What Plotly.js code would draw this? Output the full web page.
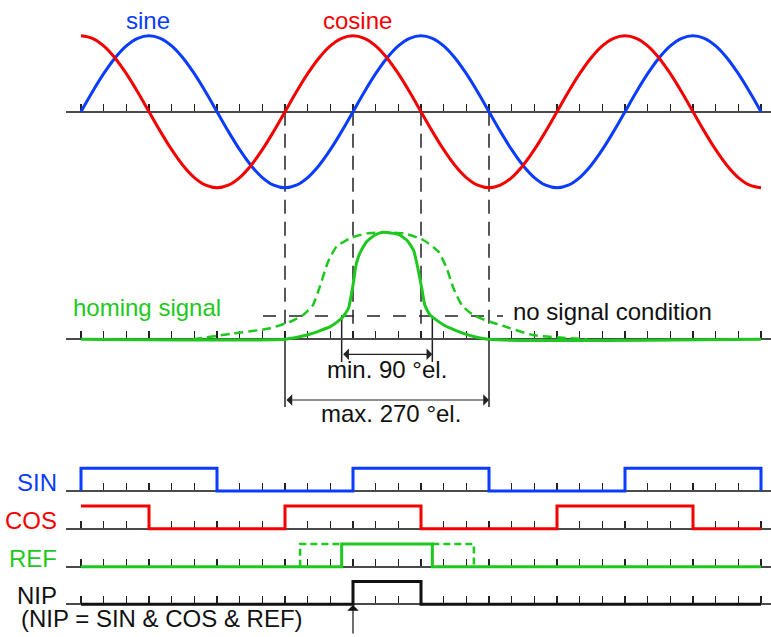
<!DOCTYPE html>
<html>
<head>
<meta charset="utf-8">
<script src="https://cdn.plot.ly/plotly-3.0.1.min.js"></script>
<style>html,body{margin:0;padding:0;background:#fff;}#chart{width:771px;height:637px;}</style>
</head>
<body>
<div id="chart"></div>
<script>
// ---------------- data (electrical degrees) ----------------
const tickAngles = [0,30,60,90,120,150,180,210,240,270,300,330,360,390,420,450,480,510,540,570,600,630,660,690,720,750,780,810,840,870,900];
const waveAngles = [0,15,30,45,60,75,90,105,120,135,150,165,180,195,210,225,240,255,270,285,300,315,330,345,
  360,375,390,405,420,435,450,465,480,495,510,525,540,555,570,585,600,615,630,645,660,675,690,705,
  720,735,750,765,780,795,810,825,840,855,870,885,900];
const sineVals = [0,0.259,0.5,0.707,0.866,0.966,1,0.966,0.866,0.707,0.5,0.259,0,-0.259,-0.5,-0.707,-0.866,-0.966,-1,-0.966,-0.866,-0.707,-0.5,-0.259,
  0,0.259,0.5,0.707,0.866,0.966,1,0.966,0.866,0.707,0.5,0.259,0,-0.259,-0.5,-0.707,-0.866,-0.966,-1,-0.966,-0.866,-0.707,-0.5,-0.259,
  0,0.259,0.5,0.707,0.866,0.966,1,0.966,0.866,0.707,0.5,0.259,0];
const cosineVals = [1,0.966,0.866,0.707,0.5,0.259,0,-0.259,-0.5,-0.707,-0.866,-0.966,-1,-0.966,-0.866,-0.707,-0.5,-0.259,0,0.259,0.5,0.707,0.866,0.966,
  1,0.966,0.866,0.707,0.5,0.259,0,-0.259,-0.5,-0.707,-0.866,-0.966,-1,-0.966,-0.866,-0.707,-0.5,-0.259,0,0.259,0.5,0.707,0.866,0.966,
  1,0.966,0.866,0.707,0.5,0.259,0,-0.259,-0.5,-0.707,-0.866,-0.966,-1];

// homing signal (normalised, 1 = peak)
const homingDeg = [0,270,299,330,345,354,360,364,369,378,389,400,420,431,440,444,451,455,462,480,506,539,900];
const homingVal = [0,0,0.04,0.118,0.196,0.29,0.507,0.694,0.804,0.912,0.975,1,0.981,0.928,0.835,0.725,0.477,0.32,0.227,0.134,0.056,0,0];
const homingWideDeg = [148,201,237,250,277,294,307,316,327,338,356,378,400,427,453,473,484,493,504,519,541,555,598,670];
const homingWideVal = [0,0.054,0.087,0.103,0.164,0.227,0.32,0.49,0.725,0.865,0.944,0.99,1,0.99,0.928,0.82,0.664,0.477,0.32,0.227,0.164,0.134,0.04,0];
const noSignalThreshold = 0.218;

// digital signals (edges / levels, step "hv")
const sinX = [0,0,180,360,540,720,900];
const sinY = [0,1,0,1,0,1,0];
const cosX = [0,90,270,450,630,810,900];
const cosY = [1,0,1,0,1,0,0];
const refX = [0,345,465,900];
const refY = [0,1,0,0];
const refWideX = [290,290,345,null,465,520,520];
const refWideY = [0,1,1,null,1,1,0];
const nipX = [0,360,450,900];
const nipY = [0,1,0,0];

const guideAngles = [270,360,450,540];
const maxWindow = [270,540];
const minWindow = [345,465];

// ---------------- layout helpers ----------------
const W = 771, H = 637;
const X0PX = 81, PXPERDEG = 680/900;
const pxToDeg = px => (px - X0PX)/PXPERDEG;
const paperY = py => 1 - py/H;
const band = (zeroPx, unitPx) => [(zeroPx - H)/unitPx, zeroPx/unitPx];

const Z = {sine:111.7, homing:339.3, SIN:491, COS:528.7, REF:566.7, NIP:604.3};
const U = {sine:76, homing:107, dig:22.7};

const BLUE = '#0a3cff', RED = '#f50000', GREEN = '#1ec81e', BLACK = '#111111';
const FONT = 'Liberation Sans, Arial, sans-serif';
const FS = 24;

const xRange = [pxToDeg(66), pxToDeg(771)];
function xax(zeroPx, overlay){
  const a = {domain:[66/W,1], range:xRange, anchor:'free', position:paperY(zeroPx),
    showline:true, linecolor:'#4a4a4a', linewidth:2, ticks:'inside', tickmode:'array', tickvals:tickAngles,
    ticklen:7, tickwidth:1.5, tickcolor:'#222', showticklabels:false, showgrid:false, zeroline:false,
    layer:'below traces', fixedrange:true};
  if (overlay) a.overlaying = 'x';
  return a;
}
function yax(zeroPx, unit, overlay){
  const a = {domain:[0,1], range:band(zeroPx, unit), visible:false, fixedrange:true, showgrid:false, zeroline:false};
  if (overlay) a.overlaying = 'y';
  return a;
}

const traces = [
  {x:waveAngles, y:sineVals, xaxis:'x', yaxis:'y', mode:'lines', line:{color:BLUE, width:3, shape:'spline', smoothing:1}},
  {x:waveAngles, y:cosineVals, xaxis:'x', yaxis:'y', mode:'lines', line:{color:RED, width:3, shape:'spline', smoothing:1}},
  {x:homingWideDeg, y:homingWideVal, xaxis:'x2', yaxis:'y2', mode:'lines', line:{color:GREEN, width:2.5, dash:'9px,5px', shape:'spline', smoothing:0.5}},
  {x:homingDeg, y:homingVal, xaxis:'x2', yaxis:'y2', mode:'lines', line:{color:GREEN, width:3, shape:'spline', smoothing:0.5}},
  {x:sinX, y:sinY, xaxis:'x3', yaxis:'y3', mode:'lines', line:{color:BLUE, width:3, shape:'hv'}},
  {x:cosX, y:cosY, xaxis:'x4', yaxis:'y4', mode:'lines', line:{color:RED, width:3, shape:'hv'}},
  {x:refWideX, y:refWideY, xaxis:'x5', yaxis:'y5', mode:'lines', line:{color:GREEN, width:2.5, dash:'7px,4px'}},
  {x:refX, y:refY, xaxis:'x5', yaxis:'y5', mode:'lines', line:{color:GREEN, width:3, shape:'hv'}},
  {x:nipX, y:nipY, xaxis:'x6', yaxis:'y6', mode:'lines', line:{color:BLACK, width:3, shape:'hv'}}
];

const shapes = [];
guideAngles.forEach(a => shapes.push({type:'line', layer:'below', xref:'x', yref:'paper', x0:a, x1:a,
  y0:paperY(Z.sine), y1:paperY(Z.homing), line:{color:'#222', width:1.5, dash:'14px,8px'}}));
maxWindow.forEach(a => shapes.push({type:'line', layer:'below', xref:'x', yref:'paper', x0:a, x1:a,
  y0:paperY(Z.homing), y1:paperY(407), line:{color:'#222', width:1.5}}));
minWindow.forEach(a => shapes.push({type:'line', layer:'below', xref:'x', yref:'paper', x0:a, x1:a,
  y0:paperY(318), y1:paperY(362), line:{color:'#222', width:1.5}}));
shapes.push({type:'line', layer:'below', xref:'x', yref:'y2', x0:pxToDeg(263), x1:pxToDeg(503),
  y0:noSignalThreshold, y1:noSignalThreshold, line:{color:'#222', width:1.5, dash:'13px,13px'}});

function txt(text, x, xref, py, color, xanchor){
  return {text:text, x:x, xref:xref, y:paperY(py), yref:'paper', xanchor:xanchor||'center', yanchor:'middle',
    showarrow:false, font:{family:FONT, size:FS, color:color}};
}
const annotations = [
  txt('sine', 89, 'x', 21, BLUE),
  txt('cosine', 366, 'x', 21, RED),
  txt('homing signal', pxToDeg(71), 'x', 307.7, GREEN, 'left'),
  txt('no signal condition', pxToDeg(511), 'x', 311.7, BLACK, 'left'),
  txt('min. 90 °el.', 404.6, 'x', 369.4, BLACK),
  txt('max. 270 °el.', 410, 'x', 413.4, BLACK),
  txt('SIN', 59/W, 'paper', 482.4, BLUE, 'right'),
  txt('COS', 59/W, 'paper', 520, RED, 'right'),
  txt('REF', 59/W, 'paper', 558.4, GREEN, 'right'),
  txt('NIP', 59/W, 'paper', 595, BLACK, 'right'),
  txt('(NIP = SIN &amp; COS &amp; REF)', 19/W, 'paper', 618.4, BLACK, 'left'),
  {text:'', x:minWindow[1], xref:'x', y:(Z.homing-354.3)/U.homing, yref:'y2',
   ax:minWindow[0], axref:'x', ay:(Z.homing-354.3)/U.homing, ayref:'y2',
   showarrow:true, arrowside:'end+start', arrowhead:1, startarrowhead:1, arrowsize:1.6, startarrowsize:1.6, arrowwidth:1.2, arrowcolor:'#222', standoff:0, startstandoff:0},
  {text:'', x:maxWindow[1], xref:'x', y:(Z.homing-400)/U.homing, yref:'y2',
   ax:maxWindow[0], axref:'x', ay:(Z.homing-400)/U.homing, ayref:'y2',
   showarrow:true, arrowside:'end+start', arrowhead:1, startarrowhead:1, arrowsize:1.6, startarrowsize:1.6, arrowwidth:1.2, arrowcolor:'#222', standoff:0, startstandoff:0},
  {text:'', x:nipX[1], xref:'x', y:paperY(605), yref:'paper', ax:0, ay:30,
   showarrow:true, arrowhead:1, arrowsize:1.6, arrowwidth:1.2, arrowcolor:'#111', standoff:0}
];

const layout = {
  width:W, height:H, margin:{l:0,r:0,t:0,b:0}, showlegend:false,
  paper_bgcolor:'#fff', plot_bgcolor:'#fff', font:{family:FONT},
  xaxis:xax(Z.sine,false), xaxis2:xax(Z.homing,true), xaxis3:xax(Z.SIN,true),
  xaxis4:xax(Z.COS,true), xaxis5:xax(Z.REF,true), xaxis6:xax(Z.NIP,true),
  yaxis:yax(Z.sine,U.sine,false), yaxis2:yax(Z.homing,U.homing,true), yaxis3:yax(Z.SIN,U.dig,true),
  yaxis4:yax(Z.COS,U.dig,true), yaxis5:yax(Z.REF,U.dig,true), yaxis6:yax(Z.NIP,U.dig,true),
  shapes:shapes, annotations:annotations
};
Plotly.newPlot('chart', traces, layout, {displayModeBar:false, staticPlot:true});
</script>
</body>
</html>
